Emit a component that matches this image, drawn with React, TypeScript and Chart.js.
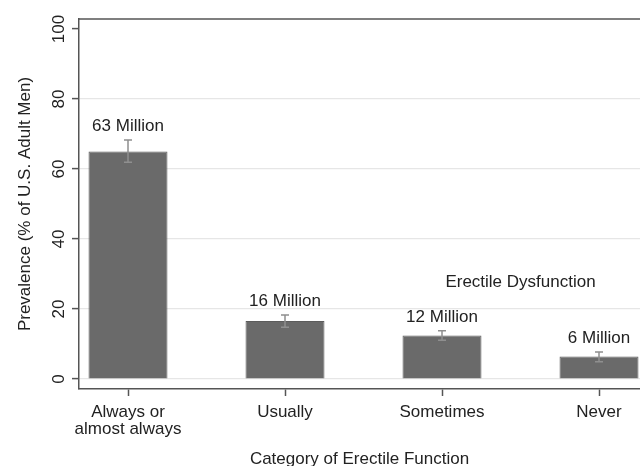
import React, { useEffect, useRef } from "react";
import { Chart, registerables } from "chart.js";

Chart.register(...registerables);

const categories: string[][] = [["Always or", "almost always"], ["Usually"], ["Sometimes"], ["Never"]];
const categoryPositions = [1, 2, 3, 4];
const prevalence = [65.0, 16.6, 12.4, 6.4];
const errorLower = [61.9, 14.8, 11.1, 4.9];
const errorUpper = [68.3, 18.3, 13.8, 7.7];
const barLabels = ["63 Million", "16 Million", "12 Million", "6 Million"];
const yTicks = [0, 20, 40, 60, 80, 100];
const annotationText = "Erectile Dysfunction";
const annotationPos = { x: 3.5, y: 27.7 };
const xTitle = "Category of Erectile Function";
const yTitle = "Prevalence (% of U.S. Adult Men)";

const FONT = "'Liberation Sans', Arial, sans-serif";
const TEXT = "#222";
const AXIS = "#555";

const overlay = {
  id: "overlay",
  afterDatasetsDraw(chart: any) {
    const { ctx, chartArea, scales } = chart;
    const x = scales.x;
    const y = scales.y;
    ctx.save();
    // top frame line
    ctx.strokeStyle = AXIS;
    ctx.lineWidth = 1.5;
    ctx.beginPath();
    ctx.moveTo(chartArea.left, chartArea.top);
    ctx.lineTo(chartArea.right, chartArea.top);
    ctx.stroke();
    // error bars
    ctx.strokeStyle = "#8f8f8f";
    ctx.lineWidth = 1.5;
    categoryPositions.forEach((c, i) => {
      const px = x.getPixelForValue(c);
      const lo = y.getPixelForValue(errorLower[i]);
      const hi = y.getPixelForValue(errorUpper[i]);
      ctx.beginPath();
      ctx.moveTo(px, lo);
      ctx.lineTo(px, hi);
      ctx.moveTo(px - 4, lo);
      ctx.lineTo(px + 4, lo);
      ctx.moveTo(px - 4, hi);
      ctx.lineTo(px + 4, hi);
      ctx.stroke();
    });
    // value labels
    ctx.fillStyle = TEXT;
    ctx.font = `17px ${FONT}`;
    ctx.textAlign = "center";
    ctx.textBaseline = "middle";
    categoryPositions.forEach((c, i) => {
      const px = x.getPixelForValue(c);
      const hi = y.getPixelForValue(errorUpper[i]);
      ctx.fillText(barLabels[i], px, hi - 13.5);
    });
    // annotation
    ctx.fillText(annotationText, x.getPixelForValue(annotationPos.x), y.getPixelForValue(annotationPos.y));
    // rotated y tick labels
    yTicks.forEach((v) => {
      const py = y.getPixelForValue(v);
      ctx.save();
      ctx.translate(59, py);
      ctx.rotate(-Math.PI / 2);
      ctx.textAlign = "center";
      ctx.textBaseline = "middle";
      ctx.fillText(String(v), 0, 0);
      ctx.restore();
    });
    ctx.restore();
  },
};

export default function App() {
  const ref = useRef<HTMLCanvasElement>(null);
  useEffect(() => {
    if (!ref.current) return;
    const chart = new Chart(ref.current, {
      type: "bar",
      data: {
        datasets: [
          {
            data: categoryPositions.map((c, i) => ({ x: c, y: prevalence[i] })),
            backgroundColor: "#6a6a6a",
            borderColor: "#5c5c5c",
            borderWidth: 1,
            barPercentage: 0.503,
            categoryPercentage: 1,
          },
        ],
      },
      options: {
        animation: false,
        responsive: false,
        devicePixelRatio: 1,
        layout: { padding: { top: 19, right: 0, bottom: 0, left: 0 } },
        plugins: { legend: { display: false }, tooltip: { enabled: false } },
        scales: {
          x: {
            type: "linear",
            offset: false,
            min: 0.6879,
            max: 4.2611,
            afterBuildTicks: (s: any) => {
              s.ticks = categoryPositions.map((v) => ({ value: v }));
            },
            afterFit: (s: any) => {
              s.height = 77;
            },
            grid: {
              offset: false,
              drawOnChartArea: false,
              drawTicks: true,
              tickLength: 7,
              tickColor: AXIS,
              tickWidth: 1.5,
            },
            border: { display: true, color: AXIS, width: 1.5 },
            ticks: {
              autoSkip: false,
              maxRotation: 0,
              minRotation: 0,
              padding: 8,
              color: TEXT,
              font: { family: FONT, size: 17, lineHeight: 1 },
              callback: (value: any) => categories[categoryPositions.indexOf(Number(value))] ?? "",
            },
            title: {
              display: true,
              text: xTitle,
              color: TEXT,
              font: { family: FONT, size: 17, lineHeight: 0.8 },
              padding: { top: 0, bottom: 0 },
            },
          },
          y: {
            type: "linear",
            min: -2.857,
            max: 102.857,
            afterBuildTicks: (s: any) => {
              s.ticks = yTicks.map((v) => ({ value: v }));
            },
            afterFit: (s: any) => {
              s.width = 79;
            },
            grid: {
              color: (c: any) => (c.tick && c.tick.value === 100 ? "rgba(0,0,0,0)" : "#e6e6e6"),
              lineWidth: 1.2,
              drawTicks: true,
              tickLength: 7,
              tickColor: AXIS,
              tickWidth: 1.5,
            },
            border: { display: true, color: AXIS, width: 1.5 },
            ticks: { display: false },
            title: {
              display: true,
              text: yTitle,
              color: TEXT,
              font: { family: FONT, size: 17, lineHeight: 1 },
              padding: { top: 16.5, bottom: 0 },
            },
          },
        },
      },
      plugins: [overlay],
    } as any);
    return () => chart.destroy();
  }, []);
  return (
    <div style={{ position: "fixed", left: 0, top: 0, width: 640, height: 466, background: "#fff" }}>
      <canvas ref={ref} width={640} height={466} style={{ display: "block" }} />
    </div>
  );
}
